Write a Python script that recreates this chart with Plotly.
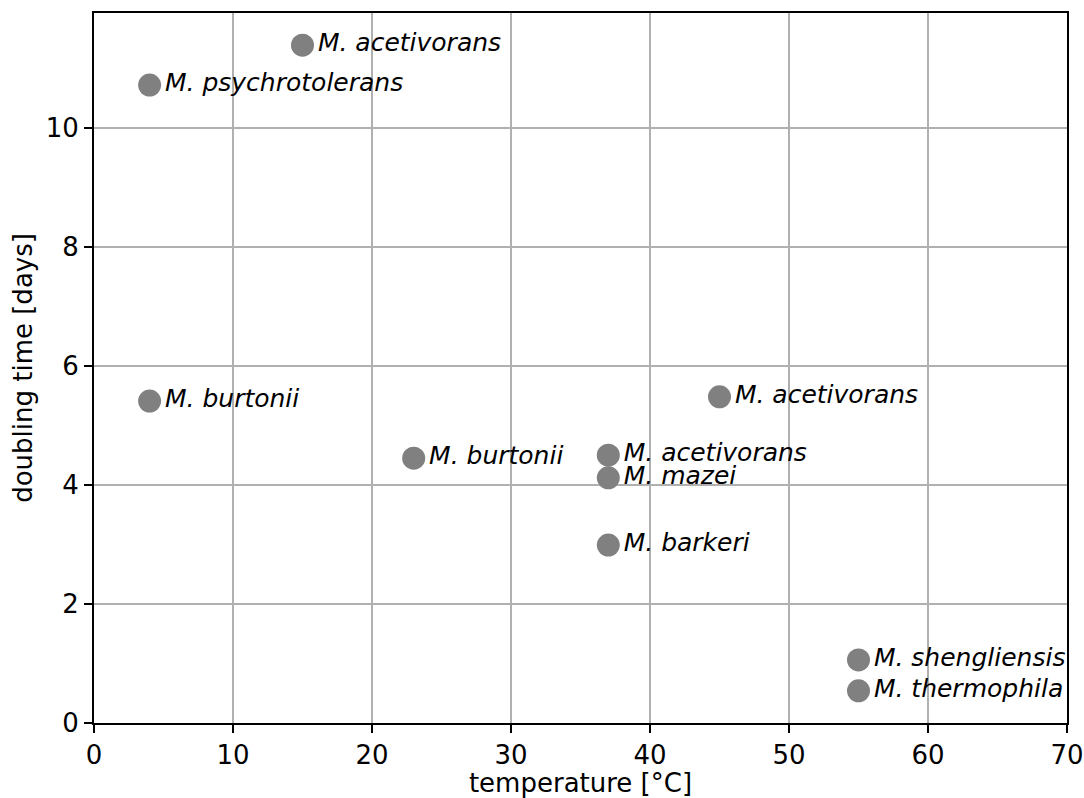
import plotly.graph_objects as go

temperature = [15, 4, 4, 23, 37, 37, 37, 45, 55, 55]
doubling_time = [11.39, 10.72, 5.41, 4.45, 4.50, 4.12, 2.99, 5.48, 1.06, 0.54]
species = ["M. acetivorans", "M. psychrotolerans", "M. burtonii", "M. burtonii",
           "M. acetivorans", "M. mazei", "M. barkeri", "M. acetivorans",
           "M. shengliensis", "M. thermophila"]
x_ticks = [0, 10, 20, 30, 40, 50, 60, 70]
y_ticks = [0, 2, 4, 6, 8, 10]

FONT = "DejaVu Sans"
FS = 26

fig = go.Figure()
fig.add_trace(go.Scatter(
    x=temperature, y=doubling_time,
    mode="markers+text",
    text=["<i>" + s + "</i>" for s in species],
    textposition="middle right",
    textfont=dict(family=FONT, size=25, color="black"),
    marker=dict(size=23, color="#808080"),
    cliponaxis=True,
    showlegend=False,
))

axis_common = dict(
    showline=True, linecolor="black", linewidth=1.8, mirror=True,
    ticks="outside", ticklen=8, tickwidth=1.8, tickcolor="black",
    showgrid=True, gridcolor="#b0b0b0", gridwidth=1.8,
    zeroline=False, automargin=False,
    tickfont=dict(family=FONT, size=FS, color="black"),
)

fig.update_xaxes(range=[0, 70], tickvals=x_ticks,
                 title=dict(text="temperature [°C]", font=dict(family=FONT, size=FS, color="black"), standoff=6),
                 **axis_common)
fig.update_yaxes(range=[0, 11.93], tickvals=y_ticks,
                 title=dict(text="doubling time [days]", font=dict(family=FONT, size=FS, color="black"), standoff=6),
                 **axis_common)

fig.update_layout(
    width=1084, height=798,
    margin=dict(l=94, r=17, t=13, b=75),
    plot_bgcolor="white", paper_bgcolor="white",
    font=dict(family=FONT),
)

fig.write_html("out.html")
